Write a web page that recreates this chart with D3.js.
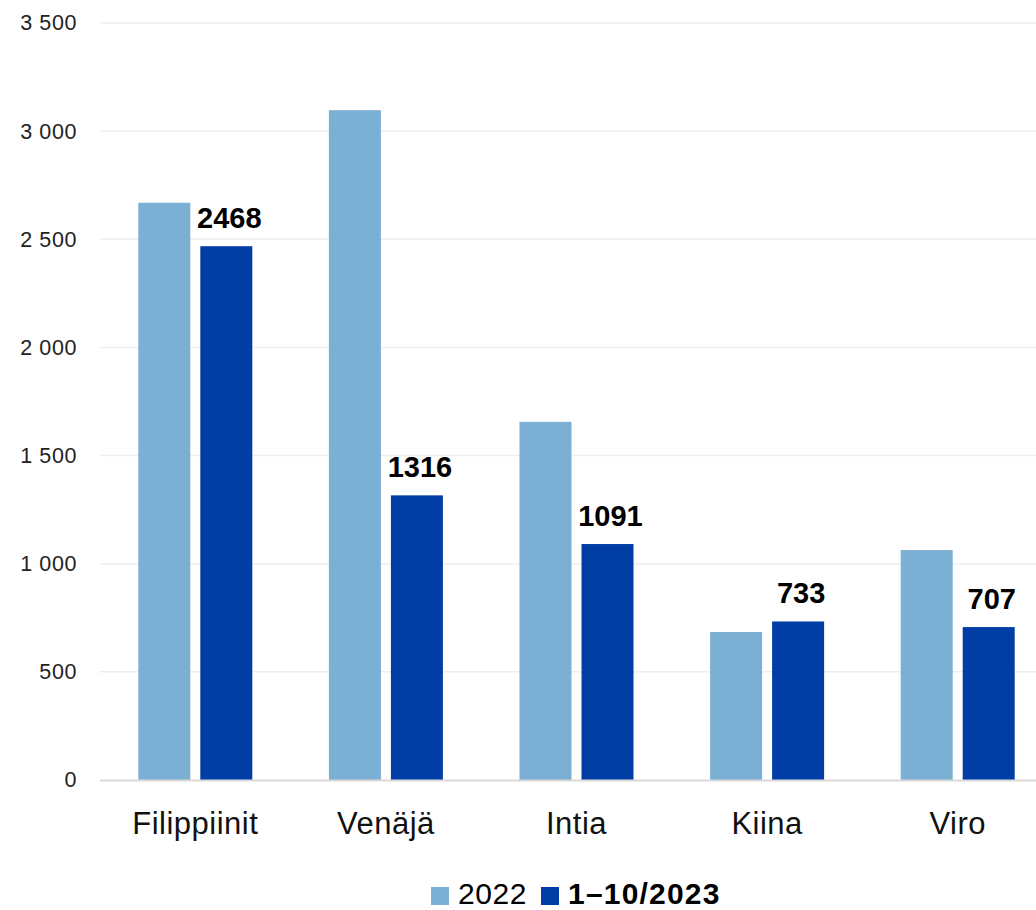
<!DOCTYPE html>
<html><head><meta charset="utf-8">
<script src="https://cdn.jsdelivr.net/npm/d3@7"></script>
<style>body{margin:0;background:#fff}svg{display:block}</style>
</head><body>
<svg id="c" width="1036" height="910"></svg>
<script>
const categories = ["Filippiinit","Venäjä","Intia","Kiina","Viro"];
const series2022 = [2669, 3097, 1656, 684, 1063];
const series2023 = [2468, 1316, 1091, 733, 707];
const seriesNames = ["2022","1–10/2023"];
const yTicks = [0,500,1000,1500,2000,2500,3000,3500];
const colors = ["#7BAFD4","#003DA5"];

const svg = d3.select("#c");
const font = "'Liberation Sans', Arial, sans-serif";
const x = d3.scaleBand().domain(categories).range([100,1053]).paddingInner(0).paddingOuter(0);
const y = d3.scaleLinear().domain([0,3500]).range([780,23]);
const barW = 52, gap = 10;

// gridlines
svg.append("g").selectAll("line").data(yTicks.filter(d=>d>0)).join("line")
  .attr("x1",100).attr("x2",1036).attr("y1",d=>y(d)).attr("y2",d=>y(d))
  .attr("stroke","#EEEEEE").attr("stroke-width",1.5);

// y axis labels
const fmt = d => d3.format(",")(d).replace(/,/g," ");
const yAxis = d3.axisLeft(y).tickValues(yTicks).tickFormat(fmt).tickSize(0).tickPadding(0);
const ga = svg.append("g").attr("transform","translate(77,0)").call(yAxis);
ga.select(".domain").remove();
ga.selectAll("text").attr("font-family",font).attr("font-size",21.5).attr("letter-spacing",0.6).attr("fill","#222");

// bars
const data = categories.map((c,i)=>({c, v:[series2022[i], series2023[i]]}));
const groups = svg.append("g").selectAll("g").data(data).join("g")
  .attr("transform", d=>`translate(${x(d.c)+x.bandwidth()/2 - barW - gap/2},0)`);
groups.selectAll("rect").data(d=>d.v).join("rect")
  .attr("x",(d,i)=>i*(barW+gap)).attr("width",barW)
  .attr("y",d=>y(d)).attr("height",d=>780-y(d))
  .attr("fill",(d,i)=>colors[i]);
// labels for 2023
groups.append("text")
  .attr("x", barW+gap+barW/2+3).attr("y", d=>y(d.v[1])-18)
  .attr("text-anchor","middle").attr("font-family",font).attr("font-weight","bold")
  .attr("font-size",29).attr("fill","#000").text(d=>d.v[1]);

// x axis
svg.append("line").attr("x1",100).attr("x2",1036).attr("y1",780.5).attr("y2",780.5)
  .attr("stroke","#D9D9D9").attr("stroke-width",2);
const xAxis = d3.axisBottom(x).tickSize(0).tickPadding(0);
const gx = svg.append("g").attr("transform","translate(0,834)").call(xAxis);
gx.select(".domain").remove();
gx.selectAll("text").attr("dy",0).attr("font-family",font).attr("font-size",31).attr("letter-spacing",0.5).attr("fill","#111");

// legend
const leg = svg.append("g");
const lx = [431, 541];
seriesNames.forEach((n,i)=>{
  leg.append("rect").attr("x",lx[i]).attr("y",887).attr("width",18).attr("height",18).attr("fill",colors[i]);
  leg.append("text").attr("x",lx[i]+27).attr("y",904).attr("font-family",font)
    .attr("font-size",30).attr("letter-spacing",i===1?1.2:0.6).attr("font-weight",i===1?"bold":"normal").attr("fill","#000").text(n);
});
</script>
</body></html>
